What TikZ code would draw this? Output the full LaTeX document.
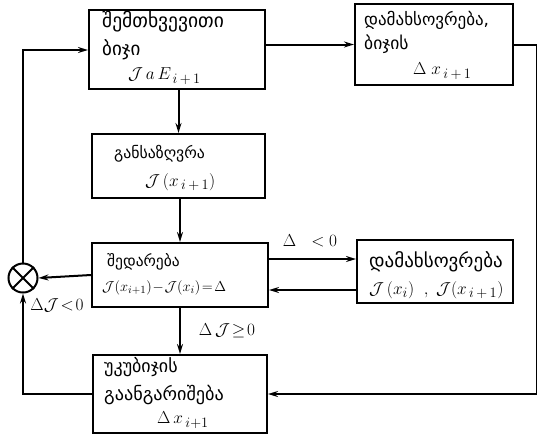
\documentclass[tikz,border=0pt]{standalone}
\usepackage{fontspec}
\newfontfamily\geo{DejaVu Sans}
\usetikzlibrary{arrows.meta,calc}
\tikzset{
  lw/.style={line width=2pt},
  box/.style={draw, lw, rectangle, inner sep=0pt},
  arr/.style={lw, -{Stealth[length=10pt,width=6pt]}},
  ln/.style={lw},
  gt/.style={anchor=west, inner sep=0pt, font=\geo\fontsize{#1}{20}\selectfont},
  gt/.default=18.5,
  mt/.style={anchor=west, inner sep=0pt, font=\fontsize{19}{21}\selectfont},
  ms/.style={anchor=west, inner sep=0pt, font=\fontsize{15.5}{17}\selectfont},
  lab/.style={inner sep=0pt, font=\fontsize{17}{19}\selectfont},
}
\begin{document}
\begin{tikzpicture}[x=1pt,y=-1pt]
\useasboundingbox (0,0) rectangle (537,437);
% boxes
\node[box, minimum width=176pt, minimum height=79pt] (b1) at (177,49.5) {};
\node[box, minimum width=158pt, minimum height=81pt] (b2) at (434,44.5) {};
\node[box, minimum width=173pt, minimum height=64pt] (b3) at (178.5,166) {};
\node[box, minimum width=176pt, minimum height=64pt] (b4) at (180,275) {};
\node[box, minimum width=156pt, minimum height=63pt] (b5) at (435,271.5) {};
\node[box, minimum width=174pt, minimum height=78pt] (b6) at (180,394) {};
\node[circle, draw, lw, minimum size=29pt, inner sep=0pt] (c) at (23,278) {};
\draw[ln] (c.north west) -- (c.south east) (c.north east) -- (c.south west);
% texts
\node[gt=19.5] at (102,22) {შემთხვევითი};
\node[gt=19] at (102,50) {ბიჯი};
\node[mt] at (128,76) {$\mathcal{J}\,a\,E_{\,i\,+\,1}$};
\node[gt=17] at (364,20) {დამახსოვრება,};
\node[gt=17.5] at (364,44) {ბიჯის};
\node[mt] at (413,71) {$\Delta\;x_{\,i\,+\,1}$};
\node[gt=15.8] at (114,154) {განსაზღვრა};
\node[mt] at (145,182) {$\mathcal{J}\,(x_{\,i\,+\,1})$};
\node[gt=15.5] at (107,262) {შედარება};
\node[ms] at (102,288) {$\mathcal{J}(x_{i+1})\!-\!\mathcal{J}(x_i)\!=\!\Delta$};
\node[gt=19] at (369,262) {დამახსოვრება};
\node[mt] at (369,290) {$\mathcal{J}\,(x_i)\;\;,\;\mathcal{J}(x_{\,i\,+\,1})$};
\node[gt=18] at (104,367) {უკუბიჯის};
\node[gt=18.2] at (104,395) {გაანგარიშება};
\node[mt] at (157,420) {$\Delta\,x_{\,i+1}$};
% labels
\node[lab] at (310,241) {$\Delta\ \ <0$};
\node[lab] at (57,305) {$\Delta\mathcal{J}\!<\!0$};
\node[lab] at (227,331) {$\Delta\,\mathcal{J}\!\geq\! 0$};
% connectors
\coordinate (rt) at (536.5,44.5);
\coordinate (rb) at (536.5,394);
\draw[arr] (b1.east |- b2.west) -- (b2.west);
\draw[arr] (b6.east -| rb) -- (b6.east);
\draw[ln] (b2.east) -- (rt) -- (rb) -- (b6.east -| rb);
\draw[arr] (b1.south -| b3.north) -- (b3.north);
\draw[arr] (b3.south -| b4.north) -- (b4.north);
\draw[arr] (b4.south) -- (b6.north);
\draw[arr] (b4.west) -- (c.east);
\draw[arr] (b4.east |- 0,259) -- (b5.west |- 0,259);
\draw[arr] (b5.west |- 0,290) -- (b4.east |- 0,290);
\draw[arr] (b6.west) -- (b6.west -| c) -- (c.south);
\draw[arr] (c.north) -- (c |- 0,50) -- (b1.west |- 0,50);
\end{tikzpicture}
\end{document}
